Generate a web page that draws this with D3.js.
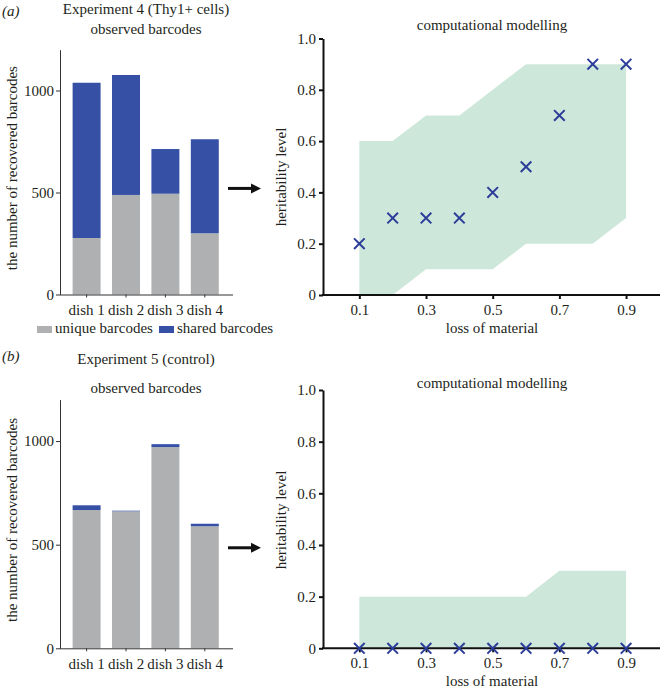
<!doctype html>
<html>
<head>
<style>
  body { margin: 0; background: #fff; }
  svg { display: block; font-family: "Liberation Serif", "Times New Roman", serif; }
  text { fill: #231f20; }
</style>
<script src="https://d3js.org/d3.v7.min.js"></script>
</head>
<body>
<svg width="660" height="691"></svg>
<script>
// bar charts: observed barcodes per dish
var dishes = ["dish 1", "dish 2", "dish 3", "dish 4"];
var uniqueA = [277, 488, 494, 300];
var sharedA = [761, 588, 219, 461];
var uniqueB = [667, 661, 971, 589];
var sharedB = [23, 3, 14, 12];
var countTicks = [0, 500, 1000];

// computational modelling: heritability vs loss of material
var loss = [0.1, 0.2, 0.3, 0.4, 0.5, 0.6, 0.7, 0.8, 0.9];
var heritA = [0.2, 0.3, 0.3, 0.3, 0.4, 0.5, 0.7, 0.9, 0.9];
var lowA = [0, 0, 0.1, 0.1, 0.1, 0.2, 0.2, 0.2, 0.3];
var highA = [0.6, 0.6, 0.7, 0.7, 0.8, 0.9, 0.9, 0.9, 0.9];
var heritB = [0, 0, 0, 0, 0, 0, 0, 0, 0];
var lowB = [0, 0, 0, 0, 0, 0, 0, 0, 0];
var highB = [0.2, 0.2, 0.2, 0.2, 0.2, 0.2, 0.3, 0.3, 0.3];
var levelTicks = [0, 0.2, 0.4, 0.6, 0.8, 1.0];
var lossTicks = [0.1, 0.3, 0.5, 0.7, 0.9];

var grey = "#aeb0b2", blue = "#3550a5", green = "#cde7da", cross = "#2b3d98";
var fs = 15;

var svg = d3.select("svg");

// strip d3's default axis font so the serif face is inherited
function styleAxis(a, stroke, width) {
    a.attr("font-family", null).attr("font-size", fs);
    a.select(".domain").attr("stroke", stroke).attr("stroke-width", width);
    a.selectAll(".tick line").attr("stroke", stroke).attr("stroke-width", width);
    a.selectAll("text").attr("fill", "#231f20");
}

function barPanel(o) {
    var x = d3.scaleBand().domain(dishes).range([66.9, 224.5])
        .paddingInner(0.29).paddingOuter(0.145);
    var y = d3.scaleLinear().domain([0, 1200]).range([o.y0, o.yTop]);
    var g = svg.append("g");

    var rows = dishes.map(function(d, i) {
        return { dish: d, unique: o.unique[i], shared: o.shared[i] };
    });
    var stack = d3.stack().keys(["unique", "shared"])(rows);
    var colors = { unique: grey, shared: blue };

    g.selectAll("g.layer").data(stack).enter().append("g")
        .attr("fill", function(s) { return colors[s.key]; })
        .selectAll("rect").data(function(s) { return s; }).enter().append("rect")
        .attr("x", function(d) { return x(d.data.dish); })
        .attr("width", x.bandwidth())
        .attr("y", function(d) { return y(d[1]); })
        .attr("height", function(d) { return y(d[0]) - y(d[1]); });

    // y axis
    var ya = g.append("g").attr("transform", "translate(60,0)")
        .call(d3.axisLeft(y).tickValues(countTicks).tickFormat(d3.format("d"))
            .tickSize(4).tickPadding(2).tickSizeOuter(0));
    styleAxis(ya, "#333", 1);

    // x axis
    var xa = g.append("g").attr("transform", "translate(0," + o.y0 + ")")
        .call(d3.axisBottom(x).tickSize(3).tickPadding(7).tickSizeOuter(0));
    styleAxis(xa, "#333", 1);
    xa.select(".domain").attr("d", "M60,0.5H233");

    g.append("text").attr("transform", "translate(17," + ((o.y0 + o.yTop) / 2 - 4) + ") rotate(-90)")
        .attr("text-anchor", "middle").attr("font-size", fs)
        .text("the number of recovered barcodes");

    g.append("text").attr("x", 2).attr("y", o.tagY).attr("font-size", fs)
        .attr("font-style", "italic").text(o.tag);
    g.append("text").attr("x", 146).attr("y", o.titleY).attr("text-anchor", "middle")
        .attr("font-size", fs).text(o.title);
    g.append("text").attr("x", 146).attr("y", o.subY).attr("text-anchor", "middle")
        .attr("font-size", fs).text("observed barcodes");

    // arrow
    var ay = y(o.arrowAt);
    g.append("line").attr("x1", 228).attr("x2", 253).attr("y1", ay).attr("y2", ay)
        .attr("stroke", "#111").attr("stroke-width", 3);
    g.append("path").attr("d", "M251," + (ay - 5) + "L261," + ay + "L251," + (ay + 5) + "Z")
        .attr("fill", "#111");
}

function modelPanel(o) {
    var x = d3.scaleLinear().domain([0, 1]).range([326, 659.4]);
    var y = d3.scaleLinear().domain([0, 1]).range([o.y0, o.yTop]);
    var g = svg.append("g");

    var pts = loss.map(function(l, i) {
        return { loss: l, h: o.herit[i], lo: o.low[i], hi: o.high[i] };
    });

    g.append("path").datum(pts)
        .attr("fill", green)
        .attr("d", d3.area()
            .x(function(d) { return x(d.loss); })
            .y0(function(d) { return y(d.lo); })
            .y1(function(d) { return y(d.hi); }));

    var ya = g.append("g").attr("transform", "translate(323,0)")
        .call(d3.axisLeft(y).tickValues(levelTicks).tickSize(4).tickPadding(3).tickSizeOuter(0)
            .tickFormat(function(d) { return d === 0 ? "0" : d3.format(".1f")(d); }));
    styleAxis(ya, "#111", 2);

    var xa = g.append("g").attr("transform", "translate(0," + o.y0 + ")")
        .call(d3.axisBottom(x).tickValues(lossTicks).tickSize(4).tickPadding(5).tickSizeOuter(0));
    styleAxis(xa, "#111", 2);
    xa.select(".domain").attr("d", "M322,0H660");

    var s = 5.3;
    g.selectAll("path.cross").data(pts).enter().append("path")
        .attr("class", "cross")
        .attr("transform", function(d) { return "translate(" + x(d.loss) + "," + y(d.h) + ")"; })
        .attr("d", "M" + (-s) + "," + (-s) + "L" + s + "," + s + "M" + (-s) + "," + s + "L" + s + "," + (-s))
        .attr("stroke", cross).attr("stroke-width", 2).attr("fill", "none");

    g.append("text").attr("transform", "translate(286," + o.labelY + ") rotate(-90)")
        .attr("text-anchor", "middle").attr("font-size", fs).text("heritability level");
    g.append("text").attr("x", 492).attr("y", o.titleY).attr("text-anchor", "middle")
        .attr("font-size", fs).text("computational modelling");
    g.append("text").attr("x", 492).attr("y", o.y0 + 38).attr("text-anchor", "middle")
        .attr("font-size", fs).text("loss of material");
}

barPanel({ unique: uniqueA, shared: sharedA, y0: 294.5, yTop: 49.7, tag: "(a)", tagY: 16,
    title: "Experiment 4 (Thy1+ cells)", titleY: 14, subY: 34, arrowAt: 520 });
barPanel({ unique: uniqueB, shared: sharedB, y0: 648.3, yTop: 399.6, tag: "(b)", tagY: 361,
    title: "Experiment 5 (control)", titleY: 364, subY: 393, arrowAt: 485 });
modelPanel({ herit: heritA, low: lowA, high: highA, y0: 295, yTop: 38.5, titleY: 30, labelY: 177 });
modelPanel({ herit: heritB, low: lowB, high: highB, y0: 648.3, yTop: 390, titleY: 388, labelY: 520 });

// legend under panel (a)
var legend = [{ label: "unique barcodes", color: grey, x: 37 }, { label: "shared barcodes", color: blue, x: 159 }];
var lg = svg.append("g").selectAll("g").data(legend).enter().append("g");
lg.append("rect").attr("x", function(d) { return d.x; }).attr("y", 326)
    .attr("width", 15).attr("height", 7).attr("fill", function(d) { return d.color; });
lg.append("text").attr("x", function(d) { return d.x + 18; }).attr("y", 333)
    .attr("font-size", fs).text(function(d) { return d.label; });
</script>
</body>
</html>
